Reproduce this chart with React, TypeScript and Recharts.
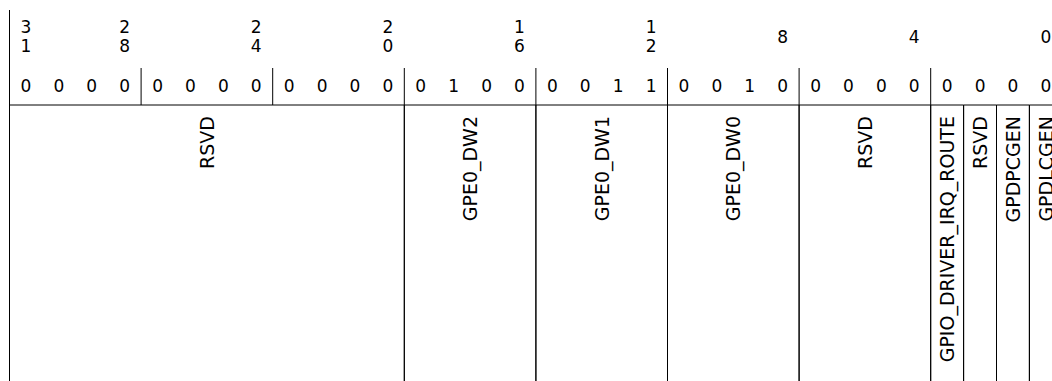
import React from "react";
import { ComposedChart, Scatter, XAxis, YAxis, ReferenceArea, ReferenceLine } from "recharts";

// register layout, bit 31 on the left
const bitNumbers = [31, 28, 24, 20, 16, 12, 8, 4, 0];
// bit values, bit 31 first
const bitValues = [0, 0, 0, 0, 0, 0, 0, 0, 0, 0, 0, 0, 0, 1, 0, 0, 0, 0, 1, 1, 0, 0, 1, 0, 0, 0, 0, 0, 0, 0, 0, 0];
const nibbleEdges = [28, 24, 20, 16, 12, 8, 4];
const fieldNames = ["RSVD", "GPE0_DW2", "GPE0_DW1", "GPE0_DW0", "RSVD", "GPIO_DRIVER_IRQ_ROUTE", "RSVD", "GPDPCGEN", "GPDLCGEN"];
const fieldHigh = [31, 19, 15, 11, 7, 3, 2, 1, 0];
const fieldLow = [20, 16, 12, 8, 4, 3, 2, 1, 0];

const W = 1064;
const H = 400;
const LEFT = 9.5;
const BITS = 32;
const TOP = 10;
const VALUE_TOP = 68;
const FIELD_TOP = 105;
const HEADER_Y = 42.5;
const VALUE_Y = 91.5;
const FIELD_Y = 116;
const FONT = "'DejaVu Sans', Verdana, sans-serif";
const FS = 17;
const FIELD_FS = 19;
const INK = "#000";

const headerData = bitNumbers.map((b) => ({ x: b + 0.5, y: HEADER_Y, label: String(b) }));
const valueData = bitValues.map((v, i) => ({ x: BITS - 1 - i + 0.5, y: VALUE_Y, label: String(v) }));
const fieldData = fieldNames.map((n, i) => ({ x: (fieldLow[i] + fieldHigh[i] + 1) / 2, y: FIELD_Y, label: n }));

const HeaderLabel = (props: any) => {
  const { cx, cy, payload } = props;
  const s: string = payload.label;
  if (s.length === 1) {
    return <text x={cx} y={cy} textAnchor="middle" fontFamily={FONT} fontSize={FS} fill={INK}>{s}</text>;
  }
  return (
    <text textAnchor="middle" fontFamily={FONT} fontSize={FS} fill={INK}>
      <tspan x={cx} y={cy - 9.5}>{s[0]}</tspan>
      <tspan x={cx} y={cy + 9.5}>{s[1]}</tspan>
    </text>
  );
};

const ValueLabel = (props: any) => (
  <text x={props.cx} y={props.cy} textAnchor="middle" fontFamily={FONT} fontSize={FS} fill={INK}>
    {props.payload.label}
  </text>
);

const FieldLabel = (props: any) => {
  const { cx, cy, payload } = props;
  return (
    <text
      x={cx}
      y={cy}
      transform={`rotate(-90, ${cx}, ${cy})`}
      textAnchor="end"
      dominantBaseline="central"
      fontFamily={FONT}
      fontSize={FIELD_FS}
      fill={INK}
    >
      {payload.label}
    </text>
  );
};

export default function App() {
  const plotW = 1052.8;
  return (
    <div style={{ position: "fixed", top: 0, left: 0, width: 1052, height: 381, overflow: "hidden", background: "#fff" }}>
      <ComposedChart width={W} height={H} margin={{ top: 0, right: W - LEFT - plotW, bottom: 0, left: LEFT }}>
        <XAxis type="number" dataKey="x" domain={[0, BITS]} reversed hide allowDataOverflow />
        <YAxis type="number" dataKey="y" domain={[0, H]} reversed hide allowDataOverflow />
        {fieldNames.map((n, i) => (
          <ReferenceArea
            key={`f${i}`}
            x1={fieldLow[i]}
            x2={fieldHigh[i] + 1}
            y1={FIELD_TOP}
            y2={H}
            fill="none"
            stroke={INK}
            strokeWidth={1}
            ifOverflow="visible"
          />
        ))}
        <ReferenceLine segment={[{ x: BITS, y: TOP }, { x: BITS, y: H }]} stroke={INK} strokeWidth={1} ifOverflow="visible" />
        {nibbleEdges.map((b) => (
          <ReferenceLine
            key={`n${b}`}
            segment={[{ x: b, y: VALUE_TOP }, { x: b, y: FIELD_TOP }]}
            stroke={INK}
            strokeWidth={1}
            ifOverflow="visible"
          />
        ))}
        <Scatter data={headerData} shape={HeaderLabel} isAnimationActive={false} />
        <Scatter data={valueData} shape={ValueLabel} isAnimationActive={false} />
        <Scatter data={fieldData} shape={FieldLabel} isAnimationActive={false} />
      </ComposedChart>
    </div>
  );
}
